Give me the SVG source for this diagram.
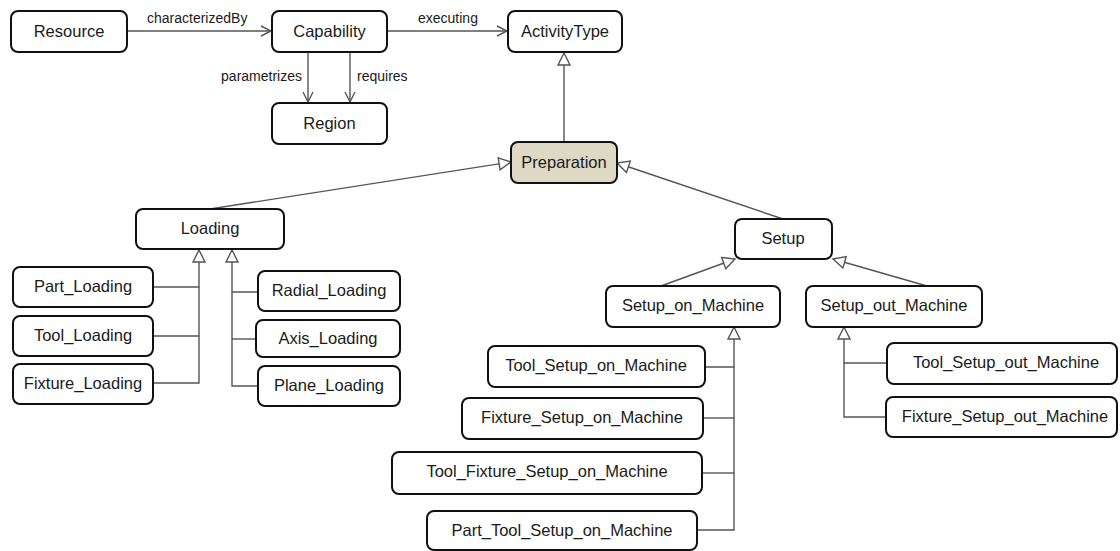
<svg xmlns="http://www.w3.org/2000/svg" width="1120" height="551" viewBox="0 0 1120 551">
<style>
.n rect{fill:#fff;stroke:#111;stroke-width:2}
.n text{font-family:"Liberation Sans",Arial,sans-serif;font-size:16.5px;fill:#1a1a1a;text-anchor:middle;dominant-baseline:central}
.c path{fill:none;stroke:#555;stroke-width:1.4}
.lbl{font-family:"Liberation Sans",Arial,sans-serif;font-size:14px;fill:#1a1a1a}
</style>
<defs>
<marker id="tri" viewBox="0 0 14 14" refX="13" refY="7" markerWidth="14" markerHeight="14" markerUnits="userSpaceOnUse" orient="auto" overflow="visible">
<path d="M1,1 L13,7 L1,13 Z" fill="#fff" stroke="#555" stroke-width="1.4"/>
</marker>
<marker id="open" viewBox="0 0 12 12" refX="11" refY="6" markerWidth="12" markerHeight="12" markerUnits="userSpaceOnUse" orient="auto" overflow="visible">
<path d="M1,1 L11,6 L1,11" fill="none" stroke="#555" stroke-width="1.4"/>
</marker>
</defs>
<rect width="1120" height="551" fill="#fff"/>
<g id="connectors" class="c">
<path d="M127,31 H271" marker-end="url(#open)"/>
<path d="M387,31 H507" marker-end="url(#open)"/>
<path d="M308,52 V102" marker-end="url(#open)"/>
<path d="M350,52 V102" marker-end="url(#open)"/>
<path d="M564,142 V53" marker-end="url(#tri)"/>
<path d="M210,209 L511,162" marker-end="url(#tri)"/>
<path d="M783,219 L617,163" marker-end="url(#tri)"/>
<path d="M661,286 L735,259" marker-end="url(#tri)"/>
<path d="M927,286 L833,259" marker-end="url(#tri)"/>
<path d="M153,287 H199 V250" marker-end="url(#tri)"/>
<path d="M153,336 H199"/>
<path d="M153,383 H199 V287"/>
<path d="M258,292 H232 V250" marker-end="url(#tri)"/>
<path d="M256,339 H232"/>
<path d="M258,386 H232 V292"/>
<path d="M705,367 H734 V327" marker-end="url(#tri)"/>
<path d="M703,418 H734"/>
<path d="M702,473 H734"/>
<path d="M697,530 H734 V367"/>
<path d="M887,363 H844 V327" marker-end="url(#tri)"/>
<path d="M886,417 H844 V363"/>
<text class="lbl" x="147" y="23">characterizedBy</text>
<text class="lbl" x="418" y="23">executing</text>
<text class="lbl" x="302" y="81" text-anchor="end">parametrizes</text>
<text class="lbl" x="357" y="81">requires</text>
</g>
<g id="Resource" class="n"><rect x="11" y="11" width="116" height="41" rx="7"/><text x="69" y="31">Resource</text></g>
<g id="Capability" class="n"><rect x="272" y="11" width="115" height="41" rx="7"/><text x="329.5" y="31">Capability</text></g>
<g id="ActivityType" class="n"><rect x="508" y="11" width="114" height="41" rx="7"/><text x="565" y="31">ActivityType</text></g>
<g id="Region" class="n"><rect x="272" y="103" width="115" height="41" rx="7"/><text x="329.5" y="123">Region</text></g>
<g id="Preparation" class="n"><rect x="511" y="142" width="106" height="41" rx="7" style="fill:#ddd9c4"/><text x="564" y="162">Preparation</text></g>
<g id="Loading" class="n"><rect x="136" y="209" width="148" height="40" rx="7"/><text x="210" y="228">Loading</text></g>
<g id="Setup" class="n"><rect x="735" y="219" width="97" height="40" rx="7"/><text x="783" y="238">Setup</text></g>
<g id="Setup_on_Machine" class="n"><rect x="606" y="286" width="174" height="41" rx="7"/><text x="693" y="305">Setup_on_Machine</text></g>
<g id="Setup_out_Machine" class="n"><rect x="806" y="286" width="176" height="41" rx="7"/><text x="894" y="305">Setup_out_Machine</text></g>
<g id="Part_Loading" class="n"><rect x="13" y="267" width="140" height="40" rx="7"/><text x="83" y="286">Part_Loading</text></g>
<g id="Tool_Loading" class="n"><rect x="13" y="316" width="140" height="40" rx="7"/><text x="83" y="335">Tool_Loading</text></g>
<g id="Fixture_Loading" class="n"><rect x="13" y="364" width="140" height="40" rx="7"/><text x="83" y="383">Fixture_Loading</text></g>
<g id="Radial_Loading" class="n"><rect x="258" y="271" width="142" height="40" rx="7"/><text x="329" y="290">Radial_Loading</text></g>
<g id="Axis_Loading" class="n"><rect x="256" y="320" width="144" height="37" rx="7"/><text x="328" y="338">Axis_Loading</text></g>
<g id="Plane_Loading" class="n"><rect x="258" y="366" width="142" height="40" rx="7"/><text x="329" y="385">Plane_Loading</text></g>
<g id="Tool_Setup_on_Machine" class="n"><rect x="488" y="346" width="217" height="41" rx="7"/><text x="596" y="365">Tool_Setup_on_Machine</text></g>
<g id="Fixture_Setup_on_Machine" class="n"><rect x="462" y="398" width="241" height="41" rx="7"/><text x="582" y="417">Fixture_Setup_on_Machine</text></g>
<g id="Tool_Fixture_Setup_on_Machine" class="n"><rect x="392" y="452" width="310" height="42" rx="7"/><text x="547" y="471">Tool_Fixture_Setup_on_Machine</text></g>
<g id="Part_Tool_Setup_on_Machine" class="n"><rect x="427" y="511" width="270" height="39" rx="7"/><text x="562" y="530">Part_Tool_Setup_on_Machine</text></g>
<g id="Tool_Setup_out_Machine" class="n"><rect x="887" y="343" width="230" height="41" rx="7"/><text x="1006" y="362">Tool_Setup_out_Machine</text></g>
<g id="Fixture_Setup_out_Machine" class="n"><rect x="886" y="397" width="231" height="40" rx="7"/><text x="1005" y="416">Fixture_Setup_out_Machine</text></g>
</svg>
